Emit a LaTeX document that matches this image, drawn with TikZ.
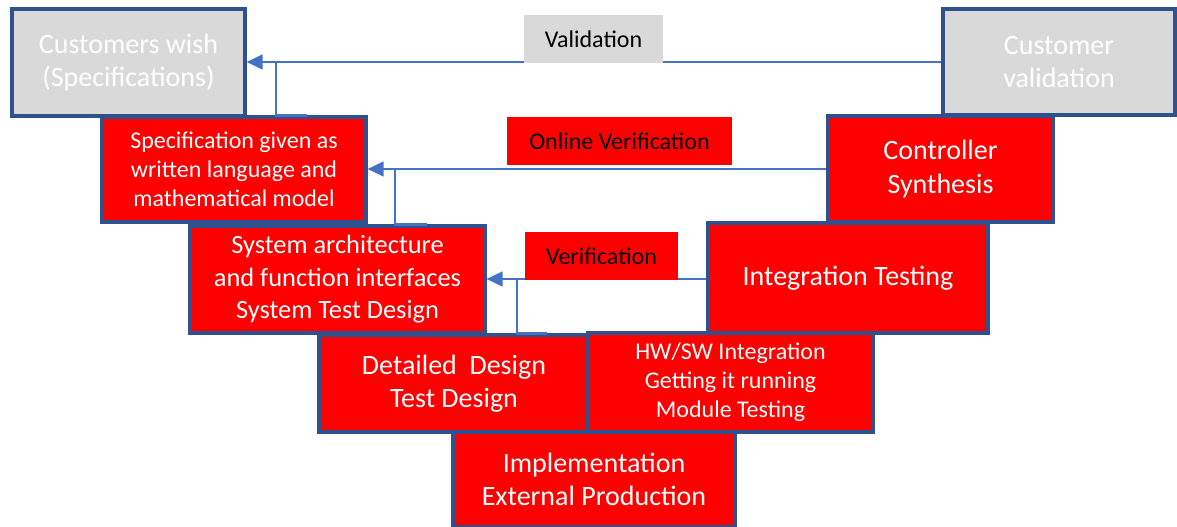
\documentclass[tikz,border=0pt]{standalone}
\usepackage{fontspec}
\setmainfont{Carlito}
\usetikzlibrary{arrows.meta}
\definecolor{boxred}{HTML}{FF0000}
\definecolor{boxgray}{HTML}{D9D9D9}
\definecolor{edgeblue}{HTML}{2F528F}
\definecolor{linkblue}{HTML}{4472C4}
\tikzset{
  stage/.style={draw=edgeblue, line width=2.3pt, fill=boxred, text=white, align=center, inner sep=0pt},
  graystage/.style={stage, fill=boxgray},
  bigtext/.style={font=\fontsize{21}{25}\selectfont},
  midtext/.style={font=\fontsize{19.8}{24.4}\selectfont},
  smalltext/.style={font=\fontsize{18}{21.6}\selectfont},
  tag/.style={inner sep=0pt, align=center, text=black, font=\fontsize{18}{21.6}\selectfont},
  link/.style={draw=linkblue, line width=1.6pt},
  arrowlink/.style={link, -{Triangle[length=12pt,width=11pt]}}
}
\begin{document}
\begin{tikzpicture}[x=0.75pt,y=-0.75pt]
\useasboundingbox (0,0) rectangle (1177,527);
% stages
\node[graystage, bigtext, minimum width=174.75pt, minimum height=80.25pt] (cw) at (128.5,62.5) {Customers wish\\(Specifications)};
\node[graystage, bigtext, minimum width=174pt, minimum height=79.5pt] (cv) at (1059,62) {Customer\\validation};
\node[stage, smalltext, minimum width=198pt, minimum height=78.75pt] (sp) at (234,169.5) {Specification given as\\written language and\\mathematical model};
\node[stage, bigtext, minimum width=168.75pt, minimum height=79.5pt] (cs) at (940.5,169) {Controller\\Synthesis};
\node[stage, midtext, minimum width=221.25pt, minimum height=80.25pt] (sa) at (337.5,279.5) {System architecture\\and function interfaces\\System Test Design};
\node[stage, bigtext, minimum width=210pt, minimum height=82.5pt] (it) at (848,278) {Integration Testing};
\node[stage, bigtext, minimum width=202.5pt, minimum height=72.75pt] (dd) at (454,383.5) {Detailed\ \ Design\\Test Design};
\node[stage, smalltext, minimum width=213.75pt, minimum height=74.25pt] (hw) at (730.5,382.5) {HW/SW Integration\\Getting it running\\Module Testing};
\node[stage, bigtext, minimum width=211.5pt, minimum height=71.25pt] (im) at (594,479.5) {Implementation\\External Production};
% connectors
\draw[arrowlink] (cv.west |- 0,62) -- (cw.east |- 0,62);
\coordinate (b1) at (276,62);
\draw[link] (b1) -- (b1 |- sp.north) -- ++(31,0);
\draw[arrowlink] (cs.west |- 0,169) -- (sp.east |- 0,169);
\coordinate (b2) at (395,169);
\draw[link] (b2) -- (b2 |- sa.north) -- ++(32,0);
\draw[arrowlink] (it.west |- 0,279) -- (sa.east |- 0,279);
\coordinate (b3) at (517,279);
\draw[link] (b3) -- (b3 |- dd.north) -- ++(30,0);
% labels
\node[tag, fill=boxgray, minimum width=104.25pt, minimum height=36pt] (val) at (593.5,39) {Validation};
\node[tag, fill=boxred, minimum width=168.75pt, minimum height=36pt] (ov) at (619.5,141) {Online Verification};
\node[tag, fill=boxred, minimum width=114.75pt, minimum height=36pt] (ver) at (601.5,256) {Verification};
\end{tikzpicture}
\end{document}
